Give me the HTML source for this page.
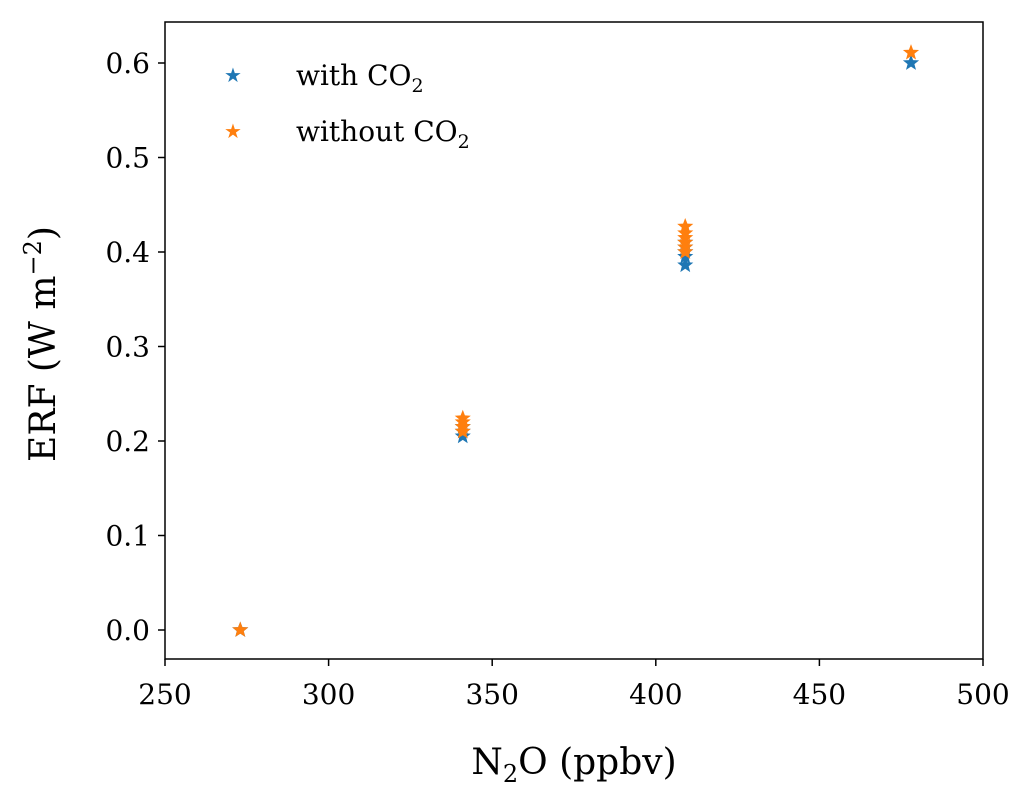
<!DOCTYPE html>
<html><head><meta charset="utf-8"><style>
html,body{margin:0;padding:0;background:#fff;}
svg{display:block;font-family:"DejaVu Serif","Liberation Serif",serif;}
</style></head><body>
<svg id="chart" width="1033" height="802" viewBox="0 0 1033 802">
<rect x="165" y="22" width="818" height="637" fill="#fff" stroke="#000" stroke-width="1.5"/>
<g id="xt"></g>
<g id="yt"></g>
<g id="marks"></g>
<text x="574" y="774" font-size="36" text-anchor="middle">N<tspan font-size="24" dy="8">2</tspan><tspan dy="-8">O (ppbv)</tspan></text>
<text transform="translate(55,344) rotate(-90)" font-size="36" text-anchor="middle">ERF (W m<tspan font-size="24" dy="-14">−2</tspan><tspan dy="14">)</tspan></text>
<g>
<g>
<text x="233" y="82" font-size="20" fill="#1f77b4" text-anchor="middle">★</text>
<text x="296" y="85" font-size="28">with CO<tspan font-size="19" dy="7">2</tspan></text></g>
<g>
<text x="233" y="138" font-size="20" fill="#ff7f0e" text-anchor="middle">★</text>
<text x="296" y="141" font-size="28">without CO<tspan font-size="19" dy="7">2</tspan></text></g>
</g>
</svg>
<script>
const xTicks=[250,300,350,400,450,500];
const yTicks=[0.0,0.1,0.2,0.3,0.4,0.5,0.6];
const withX=[273,341,341,341,409,409,409,409,409,478];
const withY=[0,0.205,0.21,0.215,0.386,0.395,0.40,0.405,0.41,0.600];
const withoutX=[273,341,341,341,341,409,409,409,409,409,409,478];
const withoutY=[0,0.21,0.215,0.22,0.224,0.40,0.405,0.41,0.415,0.42,0.427,0.611];
const X=v=>165+(v-250)*818/250;
const Y=v=>630-v*945;
const NS="http://www.w3.org/2000/svg";
function mk(tag,parent,attrs){const e=document.createElementNS(NS,tag);for(const k in attrs)e.setAttribute(k,attrs[k]);parent.appendChild(e);return e;}
const xt=document.getElementById('xt'),yt=document.getElementById('yt'),marks=document.getElementById('marks');
xTicks.forEach(t=>{
 const l=mk('line',xt,{x1:X(t),x2:X(t),y1:659,y2:666,stroke:'#000','stroke-width':1.5});
 
 
 const tx=mk('text',xt,{x:X(t),y:704,'font-size':28,'text-anchor':'middle'});tx.textContent=t;
 
 
});
yTicks.forEach(t=>{
 const l=mk('line',yt,{x1:158,x2:165,y1:Y(t),y2:Y(t),stroke:'#000','stroke-width':1.5});
 
 
 const tx=mk('text',yt,{x:150,y:Y(t)+10,'font-size':28,'text-anchor':'end'});tx.textContent=t.toFixed(1);
 
 
});
function star(cx,cy,color){
 let p=[];for(let i=0;i<10;i++){const r=i%2?3.6:8.5;const a=-Math.PI/2+i*Math.PI/5;p.push((cx+r*Math.cos(a)).toFixed(1)+','+(cy+r*Math.sin(a)).toFixed(1));}
 return mk('polygon',marks,{points:p.join(' '),fill:color});
}
withX.forEach((x,i)=>{const s=star(X(x),Y(withY[i]),'#1f77b4');
 
 });
withoutX.forEach((x,i)=>{const s=star(X(x),Y(withoutY[i]),'#ff7f0e');
 
 });
</script>
</body></html>
